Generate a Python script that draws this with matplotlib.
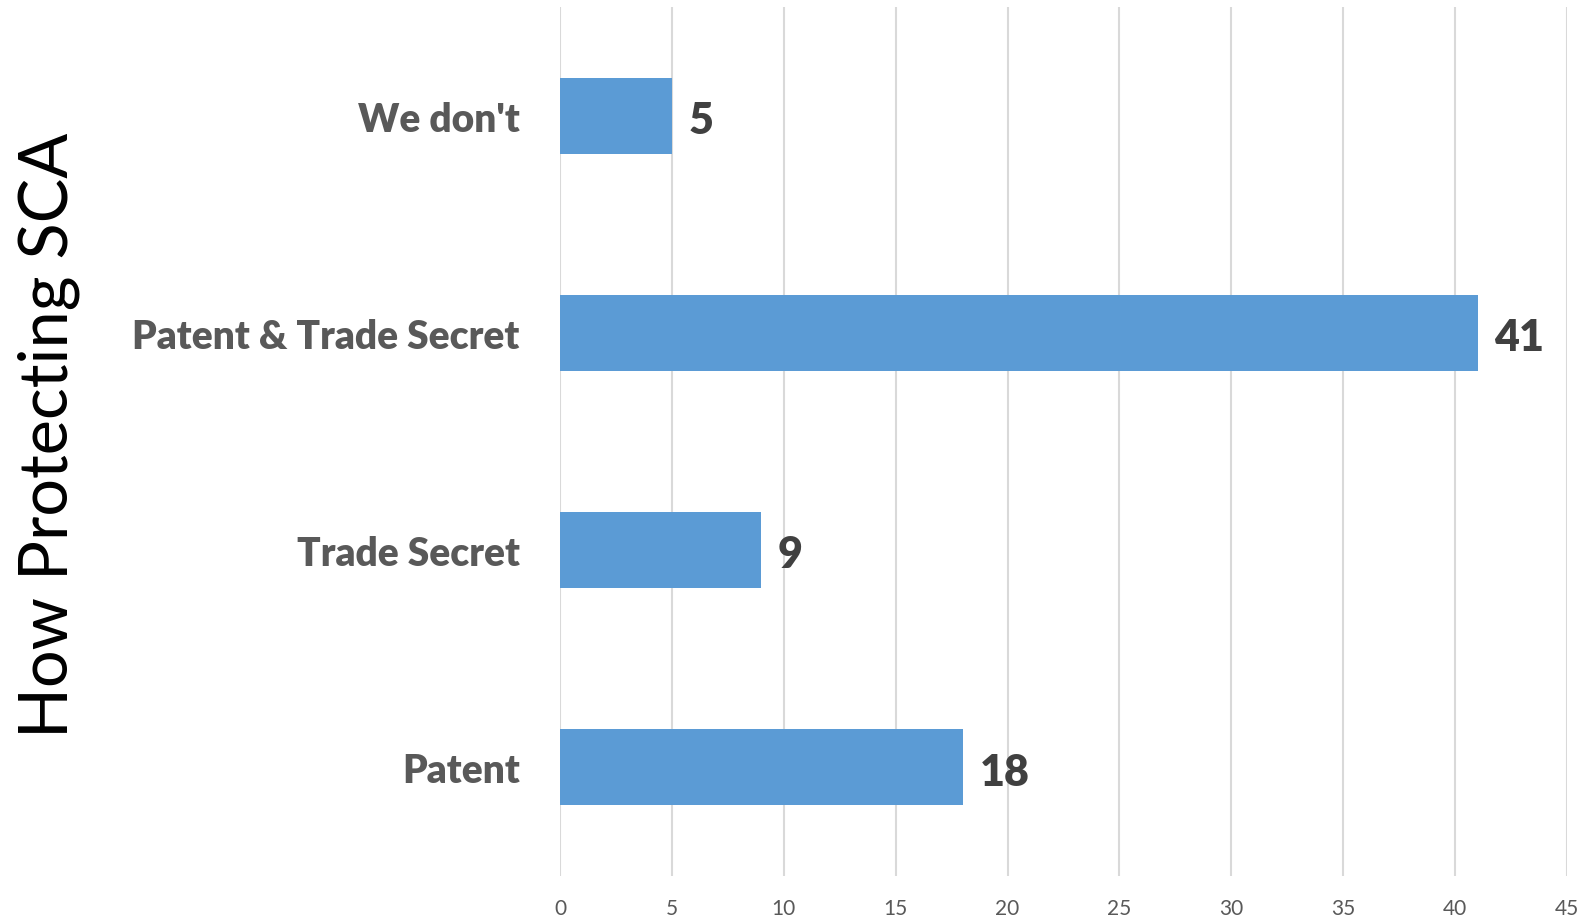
import matplotlib
matplotlib.use("Agg")
import matplotlib.pyplot as plt

categories = ["Patent", "Trade Secret", "Patent & Trade Secret", "We don't"]
values = [18, 9, 41, 5]
xticks = [0, 5, 10, 15, 20, 25, 30, 35, 40, 45]
ylabel = "How Protecting SCA"

plt.rcParams['font.family'] = ['Lato', 'DejaVu Sans']

fig = plt.figure(figsize=(15.8, 9.2), dpi=100)
ax = fig.add_axes([0.3544, 0.0467, 0.6374, 0.9446])

bars = ax.barh(range(len(categories)), values, height=0.35, color="#5B9BD5", zorder=3)
ax.set_xlim(0, 45)
ax.set_ylim(-0.5, len(categories) - 0.5)
ax.set_xticks(xticks)
ax.set_xticklabels([str(t) for t in xticks], fontsize=15, color="#595959")
ax.set_yticks(range(len(categories)))
ax.set_yticklabels(categories, fontsize=28, fontweight="heavy", color="#595959")
ax.tick_params(axis="both", length=0)
ax.tick_params(axis="x", pad=16)
ax.tick_params(axis="y", pad=29)
ax.grid(axis="x", color="#D9D9D9", linewidth=1.5, zorder=0)
for s in ax.spines.values():
    s.set_visible(False)

for i, v in enumerate(values):
    ax.annotate(str(v), xy=(v, i), xytext=(12, -3), textcoords="offset points",
                ha="left", va="center", fontsize=31, fontweight="heavy", color="#404040")

fig.text(0.031, 0.527, ylabel, rotation=90, fontsize=48, color="black",
         ha="center", va="center")

fig.savefig("out.png", dpi=100)
